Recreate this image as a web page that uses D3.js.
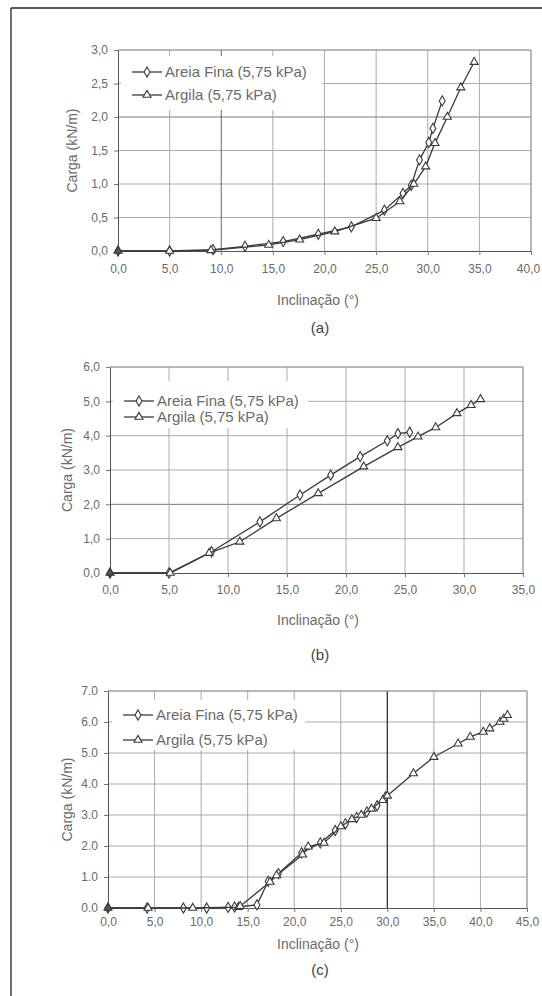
<!DOCTYPE html>
<html>
<head>
<meta charset="utf-8">
<script src="https://cdn.jsdelivr.net/npm/d3@7"></script>
<style>
  html, body { margin: 0; padding: 0; background: #fff; }
  svg { display: block; font-family: "Liberation Sans", Arial, sans-serif; }
</style>
</head>
<body>
<svg id="chart" width="542" height="996"></svg>
<script>
// ---------- DATA ----------
const seriesNames = ["Areia Fina (5,75 kPa)", "Argila (5,75 kPa)"];
const panelLabels = ["(a)", "(b)", "(c)"];
const xTitle = "Inclinação (°)";
const yTitle = "Carga (kN/m)";

// Panel (a)
const aXTicks = [0, 5, 10, 15, 20, 25, 30, 35, 40];
const aYTicks = [0, 0.5, 1.0, 1.5, 2.0, 2.5, 3.0];
const aAreiaX = [0, 5, 9.2, 12.3, 16.0, 19.4, 22.6, 25.8, 27.6, 28.4, 29.2, 30.1, 30.5, 31.4];
const aAreiaY = [0, 0, 0.02, 0.07, 0.14, 0.25, 0.36, 0.61, 0.86, 0.98, 1.36, 1.62, 1.83, 2.24];
const aArgilaX = [0, 5, 9.0, 14.6, 17.6, 21.0, 25.0, 27.3, 28.65, 29.8, 30.7, 31.9, 33.2, 34.5];
const aArgilaY = [0, 0, 0.01, 0.09, 0.17, 0.29, 0.49, 0.74, 1.0, 1.26, 1.61, 2.0, 2.44, 2.82];

// Panel (b)
const bXTicks = [0, 5, 10, 15, 20, 25, 30, 35];
const bYTicks = [0, 1, 2, 3, 4, 5, 6];
const bAreiaX = [0, 5, 8.6, 12.7, 16.1, 18.7, 21.2, 23.5, 24.4, 25.4];
const bAreiaY = [0, 0, 0.62, 1.49, 2.27, 2.85, 3.39, 3.85, 4.06, 4.10];
const bArgilaX = [0, 5.1, 8.4, 11.0, 14.1, 17.65, 21.5, 24.4, 26.1, 27.6, 29.4, 30.6, 31.4];
const bArgilaY = [0, 0, 0.58, 0.91, 1.59, 2.32, 3.10, 3.66, 3.97, 4.24, 4.65, 4.89, 5.06];

// Panel (c)
const cXTicks = [0, 5, 10, 15, 20, 25, 30, 35, 40, 45];
const cYTicks = [0, 1, 2, 3, 4, 5, 6, 7];
const cAreiaX = [0, 4.2, 8.1, 10.6, 12.9, 13.6, 16.0, 17.2, 18.3, 20.8, 22.8, 24.4, 25.5, 26.7, 27.8, 28.9, 29.8];
const cAreiaY = [0, 0, 0, 0, 0.02, 0.03, 0.10, 0.86, 1.11, 1.78, 2.10, 2.50, 2.72, 2.92, 3.10, 3.30, 3.58];
const cArgilaX = [0, 4.3, 9.1, 14.0, 14.2, 17.4, 18.1, 20.9, 21.5, 23.2, 25.0, 26.2, 27.2, 28.3, 29.5, 30.0, 32.8, 35.0, 37.6, 38.9, 40.3, 41.0, 42.1, 42.5, 42.9];
const cArgilaY = [0, 0, 0, 0.03, 0.06, 0.84, 1.05, 1.72, 1.98, 2.10, 2.63, 2.86, 3.00, 3.20, 3.48, 3.62, 4.34, 4.87, 5.30, 5.52, 5.68, 5.79, 6.00, 6.10, 6.22];

// ---------- LAYOUT ----------
const svg = d3.select("#chart");

// scan frame (left + top edge)
svg.append("line").attr("x1", 11).attr("y1", 8).attr("x2", 11).attr("y2", 996).attr("stroke", "#222").attr("stroke-width", 1.3);
svg.append("line").attr("x1", 11).attr("y1", 8).attr("x2", 542).attr("y2", 8).attr("stroke", "#222").attr("stroke-width", 1.3);

const panels = [
  { left: 118, right: 531, top: 50, bottom: 251, xTicks: aXTicks, yTicks: aYTicks, ySep: ",",
    series: [[aAreiaX, aAreiaY], [aArgilaX, aArgilaY]],
    legend: { x0: 121, y0: 56, x1: 322, y1: 110, rows: [72, 95] },
    yTitleX: 72, xTickY: 272, xTitleY: 300, labelY: 328,
    darkX: [10], darkY: [2.0] },
  { left: 110, right: 523, top: 367, bottom: 573, xTicks: bXTicks, yTicks: bYTicks, ySep: ",",
    series: [[bAreiaX, bAreiaY], [bArgilaX, bArgilaY]],
    legend: { x0: 113, y0: 381, x1: 308, y1: 428, rows: [401, 417] },
    yTitleX: 67, xTickY: 593, xTitleY: 620, labelY: 655,
    darkX: [], darkY: [2] },
  { left: 108, right: 527, top: 691, bottom: 908, xTicks: cXTicks, yTicks: cYTicks, ySep: ".",
    series: [[cAreiaX, cAreiaY], [cArgilaX, cArgilaY]],
    legend: { x0: 112, y0: 700, x1: 305, y1: 750, rows: [715, 740] },
    yTitleX: 67, xTickY: 925, xTitleY: 944, labelY: 970,
    darkX: [30], darkY: [] }
];

const textCol = "#6a6a6a";
const lineCol = "#3a3a3a";
const symbols = [d3.symbolDiamond, d3.symbolTriangle];
const symSize = [30, 28];

panels.forEach((p, i) => {
  const g = svg.append("g");
  const x = d3.scaleLinear().domain([0, d3.max(p.xTicks)]).range([p.left, p.right]);
  const y = d3.scaleLinear().domain([0, d3.max(p.yTicks)]).range([p.bottom, p.top]);
  const fmtX = v => d3.format(".1f")(v).replace(".", ",");
  const fmtY = v => d3.format(".1f")(v).replace(".", p.ySep);

  // gridlines
  g.append("g").selectAll("line").data(p.yTicks.filter(v => v > 0)).join("line")
    .attr("x1", p.left).attr("x2", p.right)
    .attr("y1", d => y(d)).attr("y2", d => y(d))
    .attr("stroke", d => p.darkY.includes(d) ? "#777" : "#aaa").attr("stroke-width", 1);
  g.append("g").selectAll("line").data(p.xTicks.filter(v => v > 0)).join("line")
    .attr("y1", p.top).attr("y2", p.bottom)
    .attr("x1", d => x(d)).attr("x2", d => x(d))
    .attr("stroke", d => p.darkX.includes(d) ? (i === 2 ? "#333" : "#666") : "#aaa")
    .attr("stroke-width", d => p.darkX.includes(d) && i === 2 ? 1.3 : 1);

  // legend box (covers grid)
  g.append("rect").attr("x", p.legend.x0).attr("y", p.legend.y0)
    .attr("width", p.legend.x1 - p.legend.x0).attr("height", p.legend.y1 - p.legend.y0)
    .attr("fill", "#fff");

  // axes
  const xAxis = d3.axisBottom(x).tickValues(p.xTicks).tickFormat(fmtX).tickSize(4).tickPadding(p.xTickY - p.bottom - 12);
  const yAxis = d3.axisLeft(y).tickValues(p.yTicks).tickFormat(fmtY).tickSize(4).tickPadding(6);
  const gx = g.append("g").attr("transform", `translate(0,${p.bottom})`).call(xAxis);
  const gy = g.append("g").attr("transform", `translate(${p.left},0)`).call(yAxis);
  [gx, gy].forEach(a => {
    a.select(".domain").attr("stroke", "#555");
    a.selectAll(".tick line").attr("stroke", "#777");
    a.selectAll("text").attr("fill", textCol).attr("font-size", 12).attr("font-family", "Liberation Sans, Arial, sans-serif");
  });
  // keep the last x tick label inside the page
  gx.selectAll(".tick text").filter(d => x(d) + 12 > 540).attr("dx", d => (540 - (x(d) + 12)) + "px");

  // top / right frame
  g.append("line").attr("x1", p.left).attr("x2", p.right).attr("y1", p.top).attr("y2", p.top).attr("stroke", "#999");
  g.append("line").attr("x1", p.right).attr("x2", p.right).attr("y1", p.top).attr("y2", p.bottom).attr("stroke", "#999");

  // series
  p.series.forEach(([xs, ys], si) => {
    const pts = xs.map((v, k) => [v, ys[k]]);
    g.append("path").datum(pts)
      .attr("fill", "none").attr("stroke", lineCol).attr("stroke-width", 1.3)
      .attr("d", d3.line().x(d => x(d[0])).y(d => y(d[1])));
    g.append("g").selectAll("path").data(pts).join("path")
      .attr("transform", d => `translate(${x(d[0])},${y(d[1])})`)
      .attr("d", d3.symbol().type(symbols[si]).size(symSize[si]))
      .attr("fill", d => d[0] === 0 ? "#555" : "#fff")
      .attr("stroke", lineCol).attr("stroke-width", 1.1);
  });

  // legend entries
  seriesNames.forEach((name, si) => {
    const ry = p.legend.rows[si];
    const lx0 = p.legend.x0 + 11, lx1 = lx0 + 30;
    g.append("line").attr("x1", lx0).attr("x2", lx1).attr("y1", ry).attr("y2", ry)
      .attr("stroke", lineCol).attr("stroke-width", 1.3);
    g.append("path").attr("transform", `translate(${(lx0 + lx1) / 2},${ry})`)
      .attr("d", d3.symbol().type(symbols[si]).size(symSize[si]))
      .attr("fill", "#fff").attr("stroke", lineCol).attr("stroke-width", 1.1);
    g.append("text").attr("x", lx1 + 3).attr("y", ry).attr("dy", "0.35em")
      .attr("fill", textCol).attr("font-size", 15).text(name);
  });

  // titles
  g.append("text").attr("x", 318).attr("y", p.xTitleY).attr("dy", "0.35em")
    .attr("text-anchor", "middle").attr("fill", textCol).attr("font-size", 14).text(xTitle);
  const cy = (p.top + p.bottom) / 2;
  g.append("text").attr("transform", `translate(${p.yTitleX},${cy}) rotate(-90)`)
    .attr("dy", "0.35em").attr("text-anchor", "middle").attr("fill", textCol).attr("font-size", 14).text(yTitle);
  g.append("text").attr("x", 320).attr("y", p.labelY).attr("dy", "0.35em")
    .attr("text-anchor", "middle").attr("fill", "#444").attr("font-size", 15).text(panelLabels[i]);
});
</script>
</body>
</html>
